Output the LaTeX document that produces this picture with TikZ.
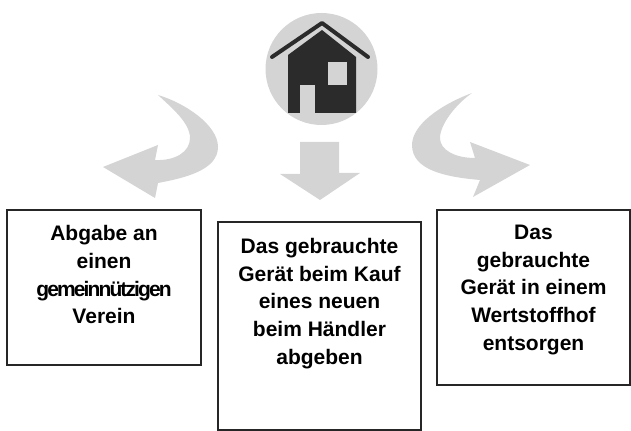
\documentclass[tikz,border=0pt]{standalone}
\usepackage{fontspec}
\usepackage{xcolor}
\setmainfont{Liberation Sans}
\newfontfamily\tightfont[LetterSpace=-9]{Liberation Sans}
\definecolor{ArrowGray}{HTML}{D4D4D4}
\definecolor{HouseDark}{HTML}{2B2B2B}
\definecolor{BoxLine}{HTML}{262626}
\tikzset{
  infobox/.style={draw=BoxLine, line width=1pt, align=center, font=\bfseries\fontsize{10.5}{13.8}\selectfont, inner sep=0pt},
  grayshape/.style={fill=ArrowGray, draw=none}
}
\begin{document}
\begin{tikzpicture}[x=0.5pt,y=-0.5pt]
\useasboundingbox (0,0) rectangle (631,431);
% house
\fill[grayshape] (321.5,69) circle (28pt);
\fill[HouseDark] (288,113) -- (288,55) -- (322,30) -- (356,57) -- (356,113) -- cycle;
\fill[ArrowGray] (300,113) rectangle (315,85);
\fill[ArrowGray] (328,62) rectangle (347,85);
\draw[HouseDark, line width=2pt, line cap=round, line join=round] (272,57) -- (322,23) -- (368,57);
% arrows
\fill[grayshape] (158,95) .. controls (185,103) and (218,125) .. (218,147)
  .. controls (218,170) and (185,178) .. (158,183) -- (155,198) -- (103,167) -- (158,145) -- (155,160)
  .. controls (175,161) and (190,152) .. (190,138) .. controls (190,123) and (172,108) .. (158,95) -- cycle;
\fill[grayshape] (300,142) -- (339,142) -- (339,173) -- (360,173) -- (320,200) -- (280,174) -- (300,174) -- cycle;
\fill[grayshape] (472,93) .. controls (440,105) and (412,125) .. (412,145)
  .. controls (412,170) and (445,177) .. (480,180) -- (473,197) -- (530,165) -- (470,142) -- (475,158)
  .. controls (455,158) and (440,150) .. (440,138) .. controls (440,125) and (455,105) .. (472,93) -- cycle;
% boxes
\node[infobox, minimum width=97pt, minimum height=77.5pt] (abgabe) at (104,287.5) {Abgabe an\\einen\\{\tightfont gemeinnützigen}\\Verein\\[-1pt]};
\node[infobox, minimum width=101.5pt, minimum height=104pt] (haendler) at (319.5,326) {\fontsize{10.5}{14}\selectfont Das gebrauchte\\Gerät beim Kauf\\eines neuen\\beim Händler\\abgeben\\[11pt]};
\node[infobox, minimum width=96.5pt, minimum height=87.5pt] (wertstoff) at (533.5,297.5) {Das\\gebrauchte\\Gerät in einem\\Wertstoffhof\\entsorgen\\[-4pt]};
\end{tikzpicture}
\end{document}
